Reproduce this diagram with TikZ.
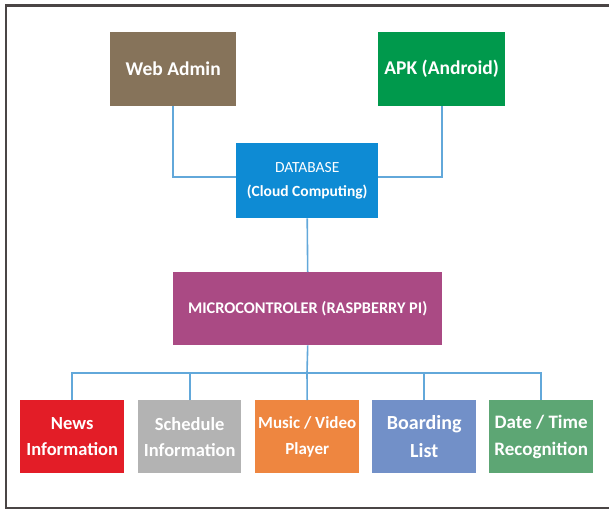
\documentclass[tikz,border=0pt]{standalone}
\usepackage{fontspec}
\setmainfont{Carlito}
\definecolor{framecol}{HTML}{4A4545}
\definecolor{linecol}{HTML}{62A8DA}
\definecolor{webcol}{HTML}{86735A}
\definecolor{apkcol}{HTML}{00994C}
\definecolor{dbcol}{HTML}{0E8BD4}
\definecolor{mccol}{HTML}{AA4A84}
\definecolor{newscol}{HTML}{E31D27}
\definecolor{schedcol}{HTML}{B3B3B3}
\definecolor{musiccol}{HTML}{EE8640}
\definecolor{boardcol}{HTML}{7290C8}
\definecolor{datecol}{HTML}{5DA674}
\begin{document}
\begin{tikzpicture}[x=1pt,y=-1pt,
  boxst/.style={draw=none,inner sep=0pt,text=white,align=center,anchor=north west},
  conn/.style={draw=linecol,line width=1.6pt},
  frame/.style={draw=framecol,line width=2.6pt}]
\useasboundingbox (0,0) rectangle (609,510);
\draw[frame] (609,5.5) -- (6,5.5) -- (6,508) -- (609,508);
% top boxes
\node[boxst,fill=webcol,minimum width=126pt,minimum height=74pt,font=\bfseries\fontsize{19.5}{22}\selectfont] (web) at (110,32) {Web Admin};
\node[boxst,fill=apkcol,minimum width=127pt,minimum height=74pt,font=\bfseries\fontsize{19.5}{22}\selectfont] (apk) at (378,32) {APK (Android)};
\node[boxst,fill=dbcol,minimum width=142pt,minimum height=75pt,font=\fontsize{15.5}{24}\selectfont] (db) at (236,143) {DATABASE\\\textbf{(Cloud Computing)}};
\node[boxst,fill=mccol,minimum width=269pt,minimum height=73pt,font=\bfseries\fontsize{16.3}{20}\selectfont] (mc) at (173,272) {MICROCONTROLER (RASPBERRY PI)};
% bottom boxes
\node[boxst,fill=newscol,minimum width=104pt,minimum height=73pt,font=\bfseries\fontsize{18.5}{26}\selectfont] (news) at (20,400) {News\\Information};
\node[boxst,fill=schedcol,minimum width=103pt,minimum height=73pt,font=\bfseries\fontsize{18.5}{26}\selectfont] (sched) at (138,400) {Schedule\\Information};
\node[boxst,fill=musiccol,minimum width=104pt,minimum height=73pt,font=\bfseries\fontsize{17}{26}\selectfont] (music) at (255,400) {Music / Video\\Player};
\node[boxst,fill=boardcol,minimum width=104pt,minimum height=73pt,font=\bfseries\fontsize{20}{28}\selectfont] (board) at (372,400) {Boarding\\List};
\node[boxst,fill=datecol,minimum width=104pt,minimum height=73pt,font=\bfseries\fontsize{19}{27}\selectfont] (date) at (489,400) {Date / Time\\Recognition};
% connectors
\coordinate (bus) at (307,373);
\coordinate (dbl) at (236,177);
\coordinate (dbr) at (378,177);
\draw[conn] (web.south) |- (dbl);
\draw[conn] (apk.south) |- (dbr);
\draw[conn] (db.south) -- (mc.north);
\draw[conn] (mc.south) -- (bus);
\draw[conn] (news.north) |- (bus);
\draw[conn] (sched.north) |- (bus);
\draw[conn] (music.north) -- (bus);
\draw[conn] (board.north) |- (bus);
\draw[conn] (date.north) |- (bus);
\end{tikzpicture}
\end{document}
